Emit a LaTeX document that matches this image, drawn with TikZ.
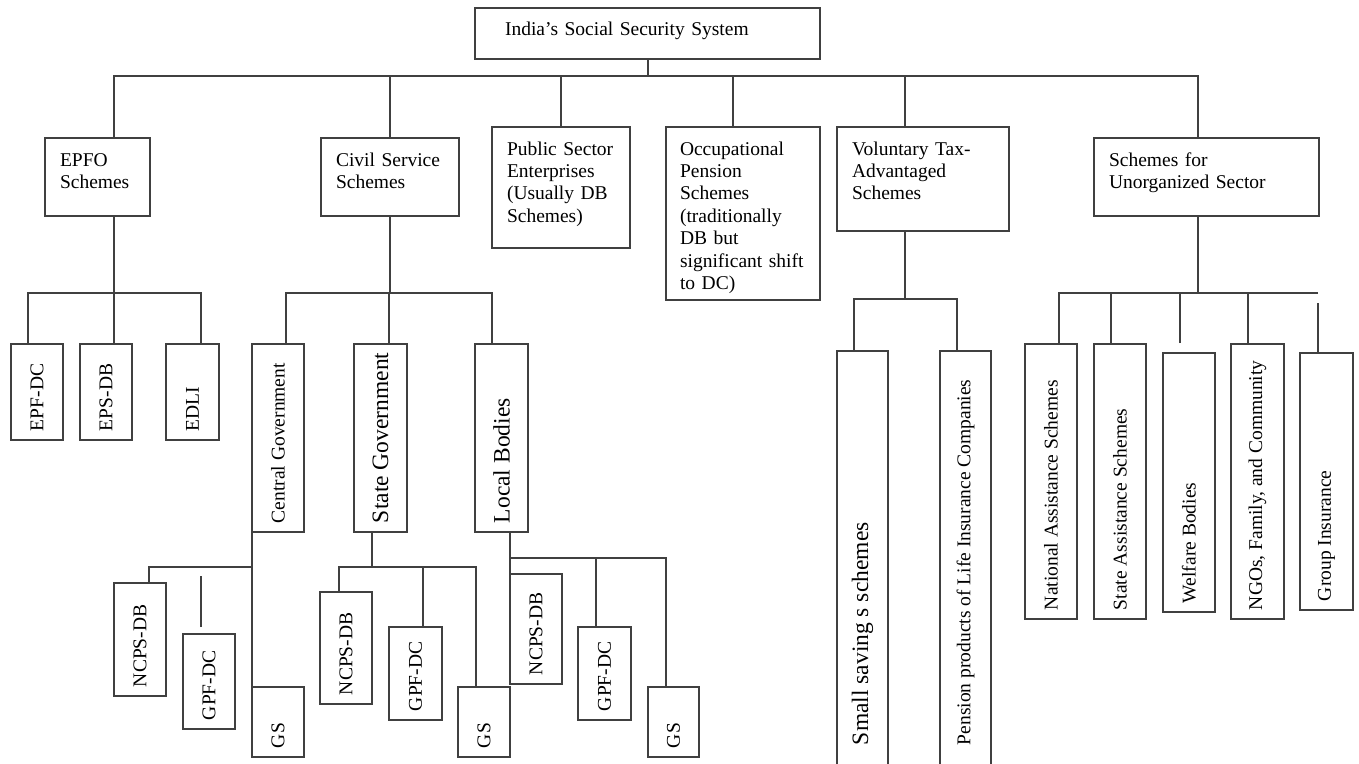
\documentclass[tikz,border=0pt]{standalone}
\usepackage{fontspec}
\setmainfont{Liberation Serif}
\usepackage{graphicx}

\newcommand{\turned}[1]{\rotatebox{90}{#1}}

\tikzset{
  catbox/.style={draw=black!75, line width=1.6pt, outer sep=0pt, align=left,
    inner xsep=15pt, inner ysep=0pt, text height=28pt,
    font=\fontsize{19.5}{22.4}\selectfont},
  upbox/.style={draw=black!75, line width=1.6pt, outer sep=0pt, inner sep=0pt,
    text depth=9pt, font=\fontsize{19.5}{22.4}\selectfont},
  bigtext/.style={font=\fontsize{23.5}{27}\selectfont},
  wire/.style={draw=black!75, line width=1.6pt}
}

\begin{document}
\begin{tikzpicture}[x=1pt, y=-1pt]
\clip (0,0) rectangle (1359,763);

% root and first level
\node[catbox, text width=285pt, inner xsep=30pt, text height=27pt, text depth=24pt]
    (sys) at (647.5,33.5) {India's Social Security System};

\node[catbox, text width=75pt, text depth=50pt] (epfo) at (97.5,177) {EPFO\\Schemes};
\node[catbox, text width=108pt, text depth=50pt] (civil) at (390,177) {Civil Service\\Schemes};
\node[catbox, text width=108pt, text depth=93pt] (pse) at (561,187.5)
    {Public Sector\\Enterprises\\(Usually DB\\Schemes)};
\node[catbox, text width=126pt, inner xsep=14pt, text depth=145pt] (occ) at (743,213.5)
    {Occupational\\Pension\\Schemes\\(traditionally\\DB but\\significant shift\\to DC)};
\node[catbox, text width=142pt, text depth=76pt] (vol) at (923,179)
    {Voluntary Tax-\\Advantaged\\Schemes};
\node[catbox, text width=195pt, text depth=50pt] (unorg) at (1206.5,177)
    {Schemes for\\Unorganized Sector};

% EPFO
\node[upbox, minimum width=52pt, text height=87pt] (epfdc) at (37,392) {\turned{EPF-DC}};
\node[upbox, minimum width=52pt, text height=87pt] (epsdb) at (106,392) {\turned{EPS-DB}};
\node[upbox, minimum width=53pt, text height=87pt] (edli) at (192.5,392) {\turned{EDLI}};

% civil service
\node[upbox, minimum width=52pt, text height=179pt] (centgov) at (278,438) {\turned{Central Government}};
\node[upbox, bigtext, minimum width=53pt, text height=179pt] (stategov) at (380.5,438) {\turned{State Government}};
\node[upbox, bigtext, minimum width=53pt, text height=179pt] (localb) at (501.5,438) {\turned{Local Bodies}};

\node[upbox, minimum width=52pt, text height=104pt] (ncps1) at (140,639.5) {\turned{NCPS-DB}};
\node[upbox, minimum width=52pt, text height=86pt] (gpf1) at (209,681.5) {\turned{GPF-DC}};
\node[upbox, minimum width=52pt, text height=61pt] (gs1) at (278,722) {\turned{GS}};

\node[upbox, minimum width=52pt, text height=103pt] (ncps2) at (346,648) {\turned{NCPS-DB}};
\node[upbox, minimum width=53pt, text height=84pt] (gpf2) at (415.5,673.5) {\turned{GPF-DC}};
\node[upbox, minimum width=52pt, text height=61pt] (gs2) at (484,722) {\turned{GS}};

\node[upbox, minimum width=52pt, text height=101pt] (ncps3) at (536,629) {\turned{NCPS-DB}};
\node[upbox, minimum width=53pt, text height=84pt] (gpf3) at (604.5,673.5) {\turned{GPF-DC}};
\node[upbox, minimum width=51pt, text height=61pt] (gs3) at (673.5,722) {\turned{GS}};

% voluntary
\node[upbox, bigtext, minimum width=51pt, text height=394pt, text depth=22pt]
    (small) at (862.5,559) {\turned{Small saving s schemes}};
\node[upbox, minimum width=51pt, text height=394pt, text depth=22pt]
    (pension) at (965.5,559) {\turned{Pension products of Life Insurance Companies}};

% unorganized sector
\node[upbox, minimum width=52pt, text height=266pt] (nas) at (1051,481.5) {\turned{National Assistance Schemes}};
\node[upbox, minimum width=52pt, text height=266pt] (sas) at (1120,481.5) {\turned{State Assistance Schemes}};
\node[upbox, minimum width=52pt, text height=250pt] (welf) at (1189,482.5) {\turned{Welfare Bodies}};
\node[upbox, minimum width=53pt, text height=266pt] (ngo) at (1257.5,481.5) {\turned{NGOs, Family, and Community}};
\node[upbox, minimum width=53pt, text height=248pt] (grp) at (1326.5,481.5) {\turned{Group Insurance}};

% connectors
\draw[wire] ([xshift=0.5]sys.south) -- ++(0,17) coordinate (bus1);
\foreach \n/\s in {epfo/16.5, civil/0, pse/0, occ/-10, vol/-18, unorg/-8.5}
    \draw[wire] ([xshift=\s]\n.north) |- (bus1);

\draw[wire] ([xshift=16.5]epfo.south) -- ++(0,77) coordinate (bus2);
\foreach \n/\s in {epfdc/-9, epsdb/8, edli/8.5}
    \draw[wire] ([xshift=\s]\n.north) |- (bus2);

\draw[wire] (civil.south) -- ++(0,77) coordinate (bus3);
\foreach \n/\s in {centgov/8, stategov/8.5, localb/-9.5}
    \draw[wire] ([xshift=\s]\n.north) |- (bus3);

\draw[wire] (centgov.south west) -- (gs1.north west);
\coordinate (bus4) at ([shift={(0,35)}]centgov.south west);
\draw[wire] ([xshift=9]ncps1.north) |- (bus4);
\draw[wire] ([shift={(-8,-7)}]gpf1.north) -- ++(0,-51);

\draw[wire] ([xshift=-8.5]stategov.south) -- ++(0,35) coordinate (bus5);
\foreach \n/\s in {ncps2/-7, gpf2/7.5, gs2/-8}
    \draw[wire] ([xshift=\s]\n.north) |- (bus5);

\draw[wire] ([xshift=8.5]localb.south) -- (ncps3.north west);
\coordinate (bus6) at ([shift={(8.5,26)}]localb.south);
\foreach \n/\s in {gpf3/-8.5, gs3/-7.5}
    \draw[wire] ([xshift=\s]\n.north) |- (bus6);

\draw[wire] ([xshift=-18]vol.south) -- ++(0,68) coordinate (bus7);
\foreach \n/\s in {small/-8.5, pension/-8.5}
    \draw[wire] ([xshift=\s]\n.north) |- (bus7);

\draw[wire] ([xshift=-8.5]unorg.south) -- ++(0,77) coordinate (bus8);
\foreach \n/\s in {nas/8, sas/-9, ngo/-9.5}
    \draw[wire] ([xshift=\s]\n.north) |- (bus8);
\draw[wire] ([shift={(-9,-10)}]welf.north) |- (bus8);
\draw[wire] ([shift={(-8.5,-60)}]grp.north) -- (bus8);
\draw[wire] ([shift={(-8.5,-50)}]grp.north) -- (grp.north -| 1318,0);
\end{tikzpicture}
\end{document}
